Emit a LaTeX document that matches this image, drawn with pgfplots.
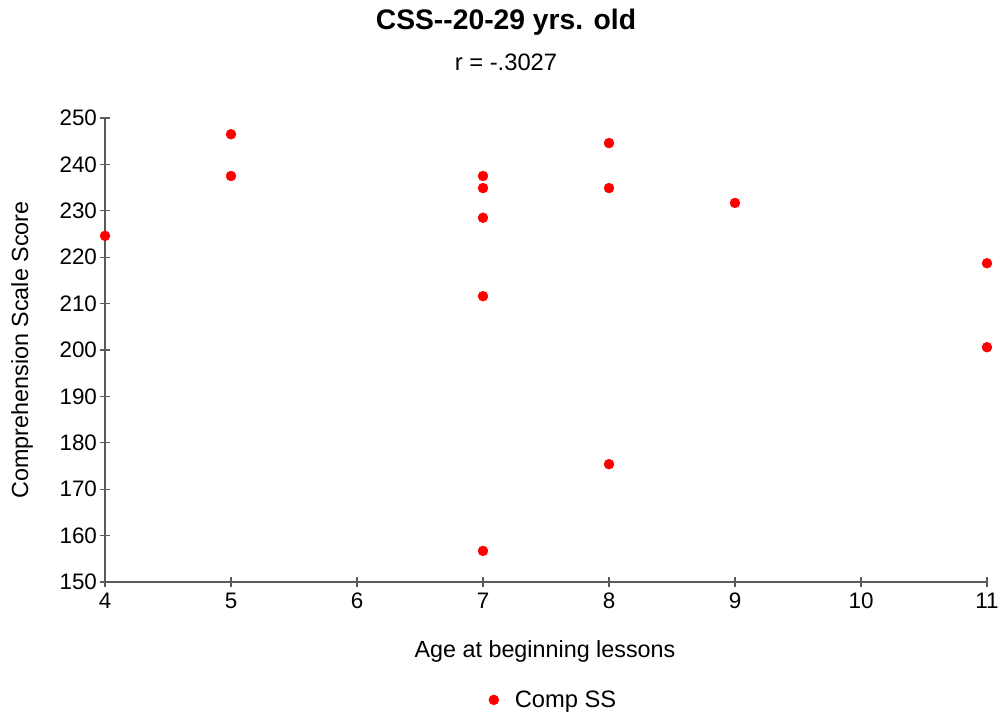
\documentclass[border=0pt]{standalone}
\usepackage{fontspec}
\setmainfont{Liberation Sans}
\usepackage{pgfplots}
\pgfplotsset{compat=1.18}
\definecolor{axgray}{RGB}{90,90,90}
\begin{document}
\begin{tikzpicture}
\path[use as bounding box] (0,0) rectangle (752.25pt,-537.75pt);
\begin{axis}[
  at={(78.75pt,-436.5pt)}, anchor=south west,
  scale only axis, width=661.5pt, height=348pt,
  xmin=4, xmax=11, ymin=150, ymax=250,
  xtick={4,5,...,11}, ytick={150,160,...,250},
  axis x line*=bottom, axis y line*=left,
  axis line style={axgray, line width=0.9pt, -},
  tick style={axgray, line width=0.8pt},
  tick align=center, major tick length=7pt,
  tick label style={font=\fontsize{16.8}{19}\selectfont},
  /pgf/number format/assume math mode=true,
  /pgf/number format/set thousands separator={},
  xticklabel style={yshift=-1pt},
  yticklabel style={xshift=1pt},
  clip=false,
  legend style={at={(0.509,-0.254)}, anchor=center, draw=none,
    font=\fontsize{17.8}{20}\selectfont},
  legend image post style={mark size=3.7pt},
]
\addplot[only marks, mark=*, mark size=3.7pt, color=red] coordinates {
  (4,224.6) (5,246.5) (5,237.5)
  (7,237.5) (7,234.9) (7,228.5) (7,211.6) (7,156.7)
  (8,244.6) (8,234.9) (8,175.4)
  (9,231.7) (11,218.7) (11,200.6)
};
\addlegendentry{\hspace{10pt}Comp SS}
\end{axis}
\node[font=\fontsize{21.2}{25}\selectfont\bfseries] at (379.5pt,-16.5pt) {CSS-{}-20-29 yrs. old};
\node[font=\fontsize{17.8}{20}\selectfont] at (379.5pt,-46.5pt) {r = -.3027};
\node[font=\fontsize{17.5}{20}\selectfont, rotate=90] at (16.5pt,-262.5pt) {Comprehension Scale Score};
\node[font=\fontsize{17.5}{20}\selectfont] at (408.75pt,-488.25pt) {Age at beginning lessons};
\end{tikzpicture}
\end{document}
